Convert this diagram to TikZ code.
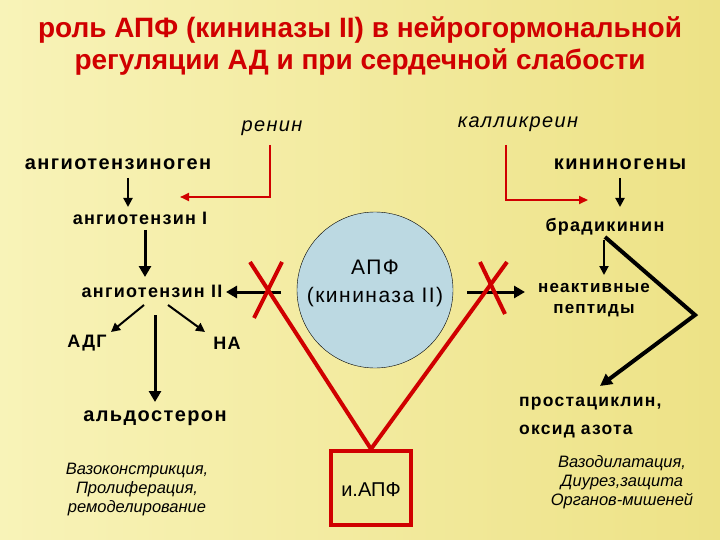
\documentclass[tikz,border=0pt]{standalone}
\usepackage{fontspec}
\setmainfont{Liberation Sans}
\newfontfamily\wide[LetterSpace=7]{Liberation Sans}
\usetikzlibrary{arrows.meta}
\definecolor{bgA}{HTML}{F8F3B8}
\definecolor{bgB}{HTML}{EDE286}
\definecolor{tred}{HTML}{D00000}
\definecolor{lblue}{HTML}{BCD9E2}
\begin{document}
\begin{tikzpicture}[x=1pt,y=-1pt,
  lab/.style={font=\wide\fontsize{20}{22}\selectfont\bfseries,inner sep=1pt},
  mlab/.style={font=\wide\fontsize{18}{21}\selectfont\bfseries,inner sep=1pt},
  ital/.style={font=\wide\fontsize{20}{22}\selectfont\itshape,inner sep=1pt},
  sital/.style={font=\fontsize{16.5}{19}\selectfont\itshape,align=center,inner sep=1pt},
  blk/.style={line width=3pt,-{Triangle[length=11pt,width=12pt]}},
  thin/.style={line width=2pt,-{Triangle[length=9pt,width=9pt]}},
  rline/.style={draw=tred,line width=2.2pt},
  rarr/.style={rline,-{Triangle[length=9pt,width=8pt]}},
  rx/.style={draw=tred,line width=4pt}]
\shade[left color=bgA,right color=bgB] (0,0) rectangle (720,540);
\useasboundingbox (0,0) rectangle (720,540);
\node[font=\fontsize{28}{32}\selectfont\bfseries,text=tred,align=center] (title) at (360,46)
 {роль АПФ (кининазы II) в нейрогормональной\\регуляции АД и при сердечной слабости};
\node[ital] (renin) at (272,128) {ренин};
\node[ital] (kall) at (518,124) {калликреин};
\node[lab] (agen) at (118,164) {ангиотензиноген};
\node[lab] (kgen) at (620,164) {кининогены};
\node[mlab] (a1) at (140,218) {ангиотензин I};
\node[mlab] (brad) at (605,227) {брадикинин};
\node[mlab] (a2) at (152,291) {ангиотензин II};
\node[mlab] (adg) at (87,343) {АДГ};
\node[mlab] (na) at (227,343) {НА};
\node[lab,font=\wide\fontsize{20}{24}\selectfont\bfseries] (ald) at (155,418) {альдостерон};
\node[mlab,align=center,font=\wide\fontsize{17}{21}\selectfont\bfseries] (pep) at (594,300) {неактивные\\пептиды};
\node[mlab,align=left,anchor=west,font=\wide\fontsize{17.5}{28}\selectfont\bfseries] (prost) at (518,418) {простациклин,\\оксид азота};
\node[circle,draw=black,fill=lblue,minimum size=156pt,inner sep=0pt] (ace) at (375,290) {};
\node[font=\wide\fontsize{21}{28}\selectfont,align=center] (acet) at (375,283) {АПФ\\(кининаза II)};
\node[draw=tred,line width=4pt,fill=bgB!60!bgA,minimum width=80pt,minimum height=74pt] (iace) at (371,488) {};
\node[font=\fontsize{20}{24}\selectfont] (iacet) at (371,490) {и.АПФ};
\node[sital] (vaso) at (137,490) {Вазоконстрикция,\\Пролиферация,\\ремоделирование};
\node[sital] (vdil) at (622,482) {Вазодилатация,\\Диурез,защита\\Органов-мишеней};
% renin / kallikrein
\coordinate (rc) at (270,197); \coordinate (re) at (180,197);
\draw[rarr] (270,145) -- (rc) -- (re);
\coordinate (kc) at (506,200); \coordinate (ke) at (588,200);
\draw[rarr] (506,145) -- (kc) -- (ke);
% cascades
\draw[thin] (128,178) -- (128,207);
\draw[blk] (145,230) -- (145,277);
\draw[thin] (620,178) -- (620,207);
\draw[thin] (604,240) -- (604,275);
\draw[thin] (144,305) -- (111,332);
\draw[thin] (168,305) -- (205,332);
\draw[line width=3pt,-{Triangle[length=11pt,width=12pt]}] (155,315) -- (155,402);
\draw[blk] (281,292) -- (226,292);
\draw[blk] (467,292) -- (525,292);
\draw[line width=4pt,-{Triangle[length=12pt,width=12pt]},line join=miter] (605,237) -- (695,315) -- (600,386);
% red V
\draw[rx] (250,262) -- (iace.north);
\draw[rx] (507,262) -- (iace.north);
% X marks
\draw[rx] (282,262) -- (254,318);
\draw[rx] (480,262) -- (505,314);
\end{tikzpicture}
\end{document}
